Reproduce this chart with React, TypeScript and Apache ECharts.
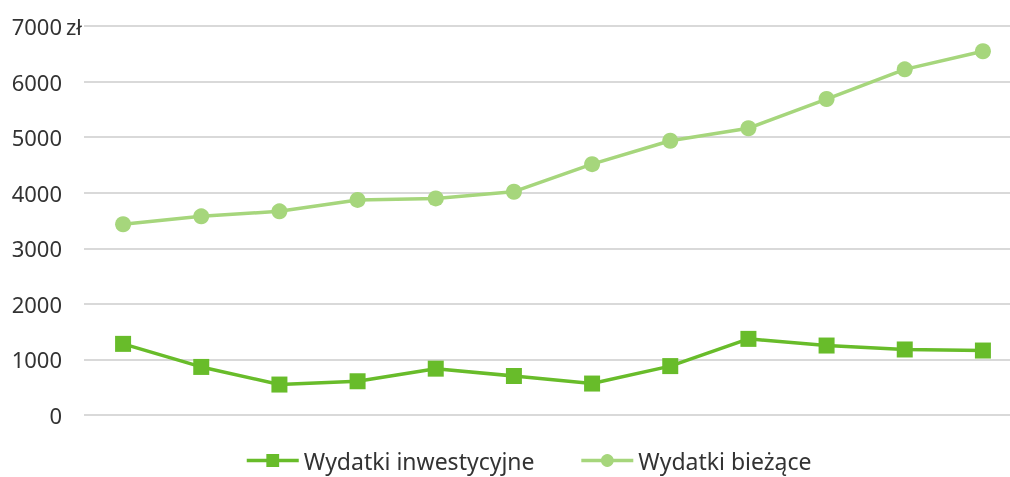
import React, { useEffect, useRef } from "react";
import * as echarts from "echarts";

const categories = ["1", "2", "3", "4", "5", "6", "7", "8", "9", "10", "11", "12"];
const inwestycyjne = [1280, 865, 548, 607, 834, 702, 566, 880, 1370, 1250, 1179, 1160];
const biezace = [3432, 3575, 3665, 3870, 3898, 4018, 4514, 4935, 5160, 5686, 6220, 6545];
const yTicks = { min: 0, max: 7000, interval: 1000 };
const seriesNames = ["Wydatki inwestycyjne", "Wydatki bieżące"];
const unitLabel = "zł";

const FONT = "'Noto Sans', sans-serif";

export default function App() {
  const ref = useRef<HTMLDivElement>(null);
  useEffect(() => {
    if (!ref.current) return;
    const chart = echarts.init(ref.current, null, { renderer: "svg" });
    chart.setOption({
      animation: false,
      grid: { left: 84, right: 0, top: 26, bottom: 62, containLabel: false },
      legend: {
        bottom: 0,
        left: 240,
        itemWidth: 52,
        itemHeight: 16,
        itemGap: 45,
        lineStyle: { width: 3.5 },
        textStyle: { fontFamily: FONT, fontSize: 23, color: "#333333" },
        data: seriesNames,
      },
      xAxis: {
        type: "category",
        data: categories,
        boundaryGap: true,
        axisLine: { show: false },
        axisTick: { show: false },
        axisLabel: { show: false },
      },
      yAxis: {
        type: "value",
        min: yTicks.min,
        max: yTicks.max,
        interval: yTicks.interval,
        axisLine: { show: false },
        axisTick: { show: false },
        axisLabel: {
          margin: 22,
          fontFamily: FONT,
          fontSize: 22,
          color: "#333333",
          formatter: (v: number) => String(v),
        },
        splitLine: { lineStyle: { color: "#d9d9d9", width: 2 } },
      },
      graphic: [
        {
          type: "text",
          x: 66,
          y: 26,
          style: {
            text: unitLabel,
            fontFamily: FONT,
            fontSize: 22,
            fill: "#333333",
            align: "left",
            verticalAlign: "middle",
          },
        },
      ],
      series: [
        {
          name: seriesNames[0],
          type: "line",
          data: inwestycyjne,
          symbol: "rect",
          symbolSize: 16,
          lineStyle: { color: "#68bc2a", width: 3.5 },
          itemStyle: { color: "#68bc2a" },
        },
        {
          name: seriesNames[1],
          type: "line",
          data: biezace,
          symbol: "circle",
          symbolSize: 16,
          lineStyle: { color: "#a6d67c", width: 3.5 },
          itemStyle: { color: "#a6d67c" },
        },
      ],
    });
    return () => chart.dispose();
  }, []);
  return (
    <div
      ref={ref}
      style={{ position: "fixed", left: 0, top: 0, width: 1022, height: 477 }}
    />
  );
}
